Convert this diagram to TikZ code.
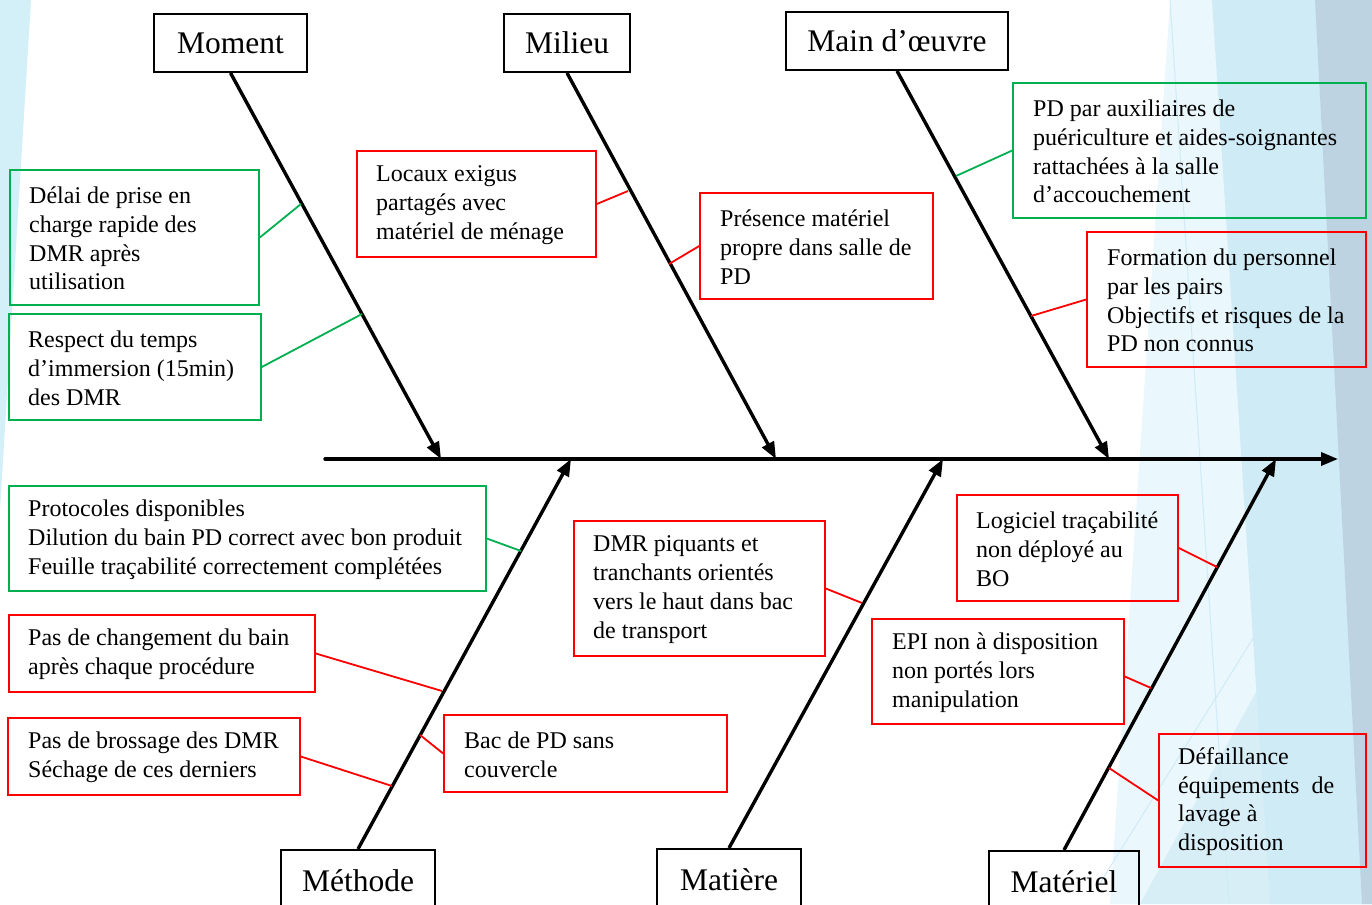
\documentclass[tikz,border=0pt]{standalone}
\usepackage{fontspec}
\setmainfont{Liberation Serif}
\usetikzlibrary{arrows.meta}
\definecolor{gr}{HTML}{00B050}
\definecolor{rd}{HTML}{FF0000}
\definecolor{bgA}{HTML}{EAF7FC}
\definecolor{bgB}{HTML}{CFEBF6}
\definecolor{bgC}{HTML}{BDD3E2}
\definecolor{bgL}{HTML}{D3EFF8}
\begin{document}
\begin{tikzpicture}[x=1pt,y=-1pt,
 hdr/.style={draw=black,line width=1.8pt,font=\fontsize{31.5}{36}\selectfont,inner sep=0pt},
 cbox/.style={line width=1.6pt,inner sep=0pt},
 gbox/.style={cbox,draw=gr},
 rbox/.style={cbox,draw=rd},
 txt/.style={anchor=west,align=left,inner sep=0pt,font=\fontsize{24}{28.8}\selectfont},
 bone/.style={line width=3.4pt,-{Triangle[length=17pt,width=13pt]}},
 gl/.style={draw=gr,line width=1.8pt},
 rl/.style={draw=rd,line width=1.8pt}]
\useasboundingbox (0,0) rectangle (1372,904);
% background
\fill[bgL] (0,0) -- (31,0) -- (0,510) -- cycle;
\fill[bgA] (1170,0) -- (1372,0) -- (1372,904) -- (1110,904) -- cycle;
\fill[bgB] (1212,0) -- (1372,0) -- (1372,904) -- (1270,904) -- cycle;
\fill[bgB,opacity=0.7] (1372,480) -- (1372,904) -- (1140,904) -- cycle;
\fill[bgC] (1315,0) -- (1372,0) -- (1372,904) -- (1362,904) -- cycle;
\draw[bgB,line width=1pt] (1170,0) -- (1229,904);
\draw[bgB,line width=1pt] (1277,600) -- (1100,883);
% headers
\node[hdr,minimum width=153pt,minimum height=58pt] (moment) at (230.5,43) {Moment};
\node[hdr,minimum width=126pt,minimum height=58pt] (milieu) at (567,43) {Milieu};
\node[hdr,minimum width=222pt,minimum height=58pt] (main) at (897,41) {Main d’œuvre};
\node[hdr,minimum width=154pt,minimum height=62pt,anchor=north] (meth) at (358,849) {Méthode};
\node[hdr,minimum width=144pt,minimum height=62pt,anchor=north] (mat) at (729,848) {Matière};
\node[hdr,minimum width=150pt,minimum height=62pt,anchor=north] (matl) at (1064,850) {Matériel};
% axis
\coordinate (s) at (325,459);
\coordinate (e) at (1338,459);
\coordinate (a1) at (441,459);
\coordinate (a2) at (776,459);
\coordinate (a3) at (1109,459);
\coordinate (a4) at (571,459);
\coordinate (a5) at (943,459);
\coordinate (a6) at (1276,459);
\draw[bone,line cap=round] (s) -- (e);
\draw[bone] (moment.south) -- (a1);
\draw[bone] (milieu.south) -- (a2);
\draw[bone] (main.south) -- (a3);
\draw[bone] (meth.north) -- (a4);
\draw[bone] (mat.north) -- (a5);
\draw[bone] (matl.north) -- (a6);
% boxes
\node[gbox,minimum width=249pt,minimum height=135pt] (b1) at (134.5,237.5) {};
\node[txt] (t1) at (29,238.5) {Délai de prise en\\charge rapide des\\DMR après\\utilisation};
\node[gbox,minimum width=252pt,minimum height=106pt] (b2) at (135,367) {};
\node[txt] (t2) at (28,368) {Respect du temps\\d’immersion (15min)\\des DMR};
\node[rbox,minimum width=239pt,minimum height=106pt] (b3) at (476.5,204) {};
\node[txt] (t3) at (376,205) {Locaux exigus\\partagés avec\\matériel de ménage};
\node[rbox,minimum width=233pt,minimum height=106pt] (b4) at (816.5,246) {};
\node[txt] (t4) at (720,247) {Présence matériel\\propre dans salle de\\PD};
\node[gbox,minimum width=353pt,minimum height=135pt] (b5) at (1189.5,150.5) {};
\node[txt] (t5) at (1033,151.5) {PD par auxiliaires de\\puériculture et aides-soignantes\\rattachées à la salle\\d’accouchement};
\node[rbox,minimum width=279pt,minimum height=135pt] (b6) at (1226.5,299.5) {};
\node[txt] (t6) at (1107,300.5) {Formation du personnel\\par les pairs\\Objectifs et risques de la\\PD non connus};
\node[gbox,minimum width=477pt,minimum height=105pt] (b7) at (247.5,538.5) {};
\node[txt] (t7) at (28,539.5) {Protocoles disponibles\\Dilution du bain PD correct avec bon produit\\Feuille traçabilité correctement complétées};
\node[rbox,minimum width=306pt,minimum height=77pt] (b8) at (162,653.5) {};
\node[txt] (t8) at (28,654.5) {Pas de changement du bain\\après chaque procédure};
\node[rbox,minimum width=292pt,minimum height=77pt] (b9) at (154,756.5) {};
\node[txt] (t9) at (28,757.5) {Pas de brossage des DMR\\Séchage de ces derniers};
\node[rbox,minimum width=283pt,minimum height=77pt] (b10) at (585.5,753.5) {};
\node[txt] (t10) at (464,754.5) {Bac de PD sans\\couvercle};
\node[rbox,minimum width=251pt,minimum height=135pt] (b11) at (699.5,588.5) {};
\node[txt] (t11) at (593,589.5) {DMR piquants et\\tranchants orientés\\vers le haut dans bac\\de transport};
\node[rbox,minimum width=221pt,minimum height=106pt] (b12) at (1067.5,548) {};
\node[txt] (t12) at (976,549) {Logiciel traçabilité\\non déployé au\\BO};
\node[rbox,minimum width=252pt,minimum height=105pt] (b13) at (998,671.5) {};
\node[txt] (t13) at (892,672.5) {EPI non à disposition\\non portés lors\\manipulation};
\node[rbox,minimum width=207pt,minimum height=133pt] (b14) at (1262.5,800.5) {};
\node[txt] (t14) at (1178,801.5) {Défaillance\\équipements\ \ de\\lavage à\\disposition};
% connector points on bones
\coordinate (c1) at (301,204);
\coordinate (c2) at (362,314);
\coordinate (c3) at (628,191);
\coordinate (c4) at (669,264);
\coordinate (c5) at (956,176);
\coordinate (c6) at (1031,316);
\coordinate (c7) at (521,551);
\coordinate (c8) at (442,691);
\coordinate (c9) at (392,786);
\coordinate (c10) at (420,735);
\coordinate (c11) at (862,603);
\coordinate (c12) at (1217,567);
\coordinate (c13) at (1151,688);
\coordinate (c14) at (1109,768);
\draw[gl] (b1.east) -- (c1);
\draw[gl] (b2.east) -- (c2);
\draw[rl] (b3.east) -- (c3);
\draw[rl] (b4.west) -- (c4);
\draw[gl] (b5.west) -- (c5);
\draw[rl] (b6.west) -- (c6);
\draw[gl] (b7.east) -- (c7);
\draw[rl] (b8.east) -- (c8);
\draw[rl] (b9.east) -- (c9);
\draw[rl] (b10.west) -- (c10);
\draw[rl] (b11.east) -- (c11);
\draw[rl] (b12.east) -- (c12);
\draw[rl] ([yshift=-5pt]b13.east) -- (c13);
\draw[rl] (b14.west) -- (c14);
\end{tikzpicture}
\end{document}
